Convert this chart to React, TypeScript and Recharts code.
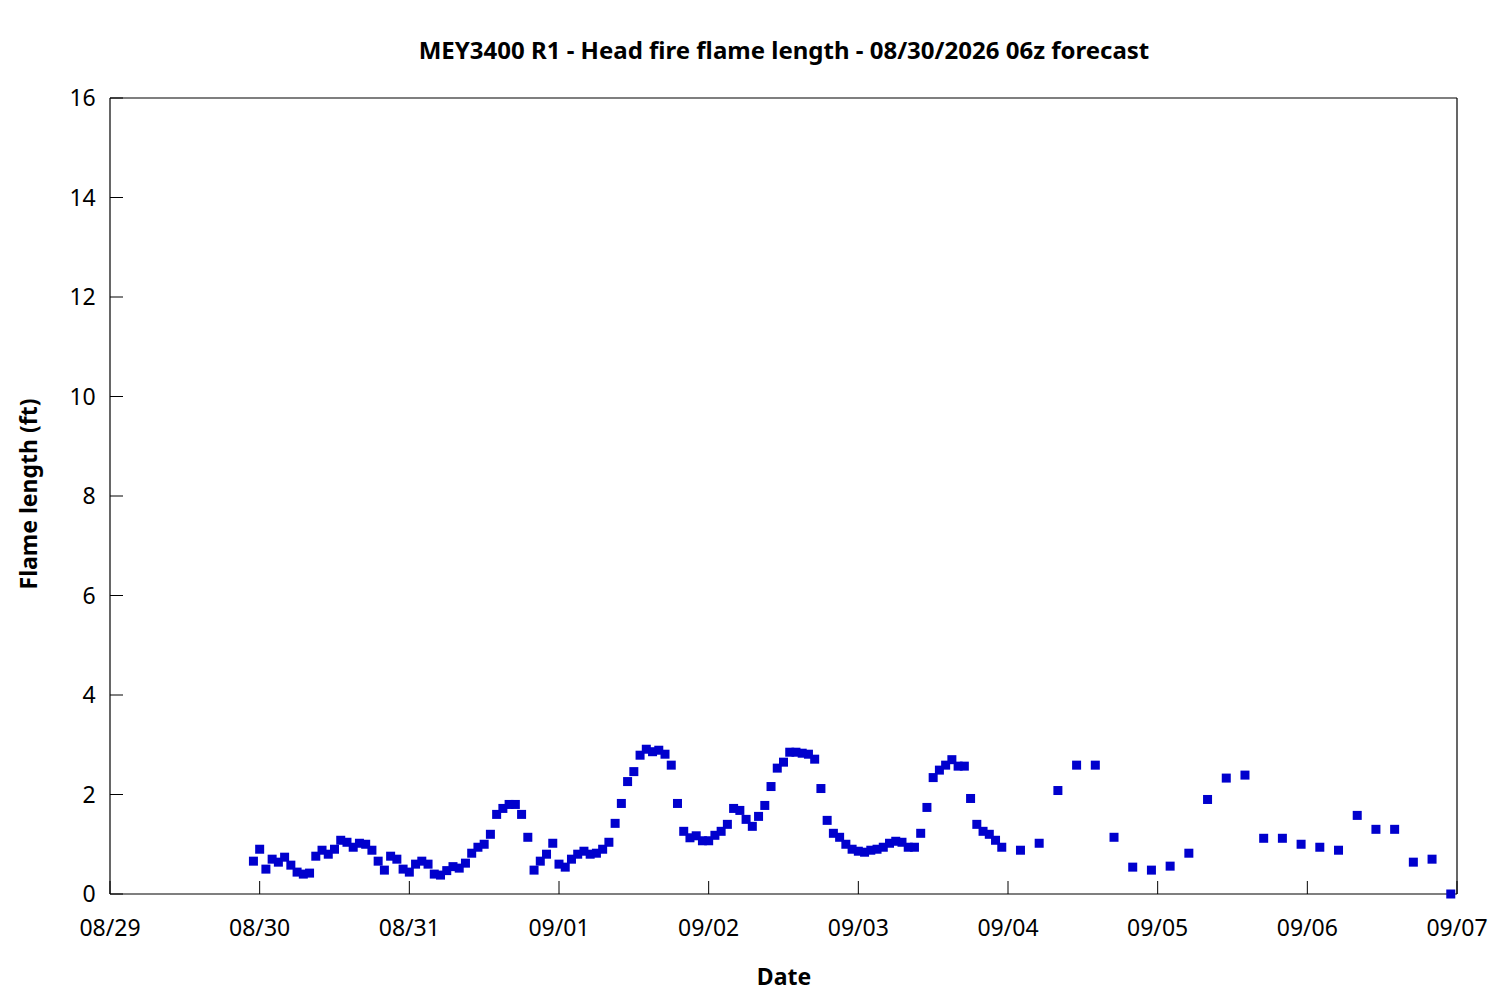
import React from 'react';
import { ScatterChart, Scatter, XAxis, YAxis } from 'recharts';

const FONT = '"Noto Sans", "Open Sans", sans-serif';

// x positions: hours since 08/29 00z
const dateTicks = [0, 24, 48, 72, 96, 120, 144, 168, 192, 216];
const dateLabels = ['08/29', '08/30', '08/31', '09/01', '09/02', '09/03', '09/04', '09/05', '09/06', '09/07'];
const yTicks = [0, 2, 4, 6, 8, 10, 12, 14, 16];

const forecastHours = [
  23, 24, 25, 26, 27, 28, 29, 30, 31, 32, 33, 34, 35, 36, 37, 38, 39, 40, 41, 42, 43, 44, 45, 46, 47,
  48, 49, 50, 51, 52, 53, 54, 55, 56, 57, 58, 59, 60, 61, 62, 63, 64, 65, 66, 67, 68, 69, 70, 71,
  72, 73, 74, 75, 76, 77, 78, 79, 80, 81, 82, 83, 84, 85, 86, 87, 88, 89, 90, 91, 92, 93, 94, 95,
  96, 97, 98, 99, 100, 101, 102, 103, 104, 105, 106, 107, 108, 109, 110, 111, 112, 113, 114, 115, 116, 117, 118, 119,
  120, 121, 122, 123, 124, 125, 126, 127, 128, 129, 130, 131, 132, 133, 134, 135, 136, 137, 138, 139, 140, 141, 142, 143,
  146, 149, 152, 155, 158, 161, 164, 167, 170, 173, 176, 179, 182, 185, 188, 191,
  194, 197, 200, 203, 206, 209, 212, 215,
];

const flameLength = [
  0.66, 0.90, 0.50, 0.70, 0.64, 0.74, 0.58, 0.44, 0.40, 0.42, 0.76, 0.88, 0.80, 0.90, 1.08, 1.04, 0.94, 1.02, 1.00, 0.88, 0.66, 0.48, 0.76, 0.70, 0.50,
  0.44, 0.60, 0.66, 0.60, 0.40, 0.38, 0.47, 0.55, 0.52, 0.62, 0.82, 0.94, 1.00, 1.20, 1.60, 1.72, 1.80, 1.80, 1.60, 1.14, 0.48, 0.66, 0.80, 1.02,
  0.60, 0.54, 0.70, 0.80, 0.86, 0.80, 0.82, 0.90, 1.04, 1.42, 1.82, 2.26, 2.46, 2.79, 2.91, 2.86, 2.89, 2.81, 2.59, 1.82, 1.26, 1.13, 1.17, 1.07,
  1.07, 1.18, 1.26, 1.40, 1.72, 1.68, 1.50, 1.36, 1.56, 1.78, 2.16, 2.53, 2.65, 2.85, 2.85, 2.83, 2.81, 2.71, 2.12, 1.48, 1.22, 1.14, 1.00, 0.90,
  0.86, 0.84, 0.88, 0.90, 0.94, 1.02, 1.06, 1.04, 0.94, 0.94, 1.22, 1.74, 2.34, 2.49, 2.59, 2.70, 2.57, 2.57, 1.92, 1.40, 1.26, 1.20, 1.08, 0.94,
  0.88, 1.02, 2.08, 2.59, 2.59, 1.14, 0.54, 0.48, 0.56, 0.82, 1.90, 2.33, 2.39, 1.12, 1.12, 1.00,
  0.94, 0.88, 1.58, 1.30, 1.30, 0.64, 0.70, 0.00,
];

const data = forecastHours.map((h, i) => ({ h, v: flameLength[i] }));

// chart geometry (svg coords)
const CHART_W = 1484;
const CHART_H = 984;
const MARGIN = { top: 80, right: 25, bottom: 38, left: 42 };
const X_AXIS_H = 60;
const TOP_AXIS_H = 10;
const Y_AXIS_W = 60;
const RIGHT_AXIS_W = 10;
const PLOT_LEFT = MARGIN.left + Y_AXIS_W;
const PLOT_RIGHT = CHART_W - MARGIN.right - RIGHT_AXIS_W;
const PLOT_TOP = MARGIN.top + TOP_AXIS_H;
const PLOT_BOTTOM = CHART_H - MARGIN.bottom - X_AXIS_H;
const TICK_LEN = 13;

const Square = (props: any) => {
  const { cx, cy } = props;
  if (cx == null || cy == null) return <g />;
  return <rect x={cx - 4.5} y={cy - 4.5} width={9} height={9} fill="#0000CD" />;
};

const BottomTick = (props: any) => {
  const { x, payload } = props;
  const label = dateLabels[dateTicks.indexOf(payload.value)] ?? '';
  return (
    <g>
      <line x1={x} x2={x} y1={PLOT_BOTTOM} y2={PLOT_BOTTOM - TICK_LEN} stroke="#000" strokeWidth={1} />
      <text x={x} y={PLOT_BOTTOM + 25.5} dy="0.71em" textAnchor="middle" fill="#000" fontSize={23} fontFamily={FONT}>
        {label}
      </text>
    </g>
  );
};

const TopTick = (props: any) => {
  const { x } = props;
  return <line x1={x} x2={x} y1={PLOT_TOP} y2={PLOT_TOP + TICK_LEN} stroke="#000" strokeWidth={1} />;
};

const LeftTick = (props: any) => {
  const { y, payload } = props;
  return (
    <g>
      <line x1={PLOT_LEFT} x2={PLOT_LEFT + TICK_LEN} y1={y} y2={y} stroke="#000" strokeWidth={1} />
      <text x={PLOT_LEFT - 14.3} y={y} dy="0.355em" textAnchor="end" fill="#000" fontSize={23} fontFamily={FONT}>
        {payload.value}
      </text>
    </g>
  );
};

const RightTick = (props: any) => {
  const { y } = props;
  return <line x1={PLOT_RIGHT} x2={PLOT_RIGHT - TICK_LEN} y1={y} y2={y} stroke="#000" strokeWidth={1} />;
};

export default function App() {
  const axisStyle = { stroke: '#000', strokeWidth: 1.2 };
  return (
    <div style={{ position: 'relative', width: CHART_W, height: CHART_H, background: '#fff' }}>
      <ScatterChart width={CHART_W} height={CHART_H} margin={MARGIN}>
        <XAxis
          xAxisId="b"
          dataKey="h"
          type="number"
          orientation="bottom"
          domain={[0, 216]}
          ticks={dateTicks}
          interval={0}
          height={X_AXIS_H}
          axisLine={axisStyle}
          tickLine={false}
          tick={BottomTick}
        />
        <XAxis
          xAxisId="t"
          dataKey="h"
          type="number"
          orientation="top"
          domain={[0, 216]}
          ticks={dateTicks}
          interval={0}
          height={TOP_AXIS_H}
          axisLine={axisStyle}
          tickLine={false}
          tick={TopTick}
        />
        <YAxis
          yAxisId="l"
          dataKey="v"
          type="number"
          orientation="left"
          domain={[0, 16]}
          ticks={yTicks}
          interval={0}
          width={Y_AXIS_W}
          axisLine={axisStyle}
          tickLine={false}
          tick={LeftTick}
        />
        <YAxis
          yAxisId="r"
          dataKey="v"
          type="number"
          orientation="right"
          domain={[0, 16]}
          ticks={yTicks}
          interval={0}
          width={RIGHT_AXIS_W}
          axisLine={axisStyle}
          tickLine={false}
          tick={RightTick}
        />
        <Scatter
          data={data}
          xAxisId="b"
          yAxisId="l"
          dataKey="v"
          fill="#0000CD"
          shape={Square}
          isAnimationActive={false}
        />
      </ScatterChart>
      <svg
        width={CHART_W}
        height={CHART_H}
        style={{ position: 'absolute', left: 0, top: 0, pointerEvents: 'none' }}
      >
        <text x={776} y={50.5} textAnchor="middle" fontFamily={FONT} fontWeight="bold" fontSize={24} fill="#000">
          MEY3400 R1 - Head fire flame length - 08/30/2026 06z forecast
        </text>
        <text x={776} y={977} textAnchor="middle" fontFamily={FONT} fontWeight="bold" fontSize={23} fill="#000">
          Date
        </text>
        <text
          transform="translate(29, 486) rotate(-90)"
          x={0}
          y={0}
          textAnchor="middle"
          fontFamily={FONT}
          fontWeight="bold"
          fontSize={23}
          fill="#000"
        >
          Flame length (ft)
        </text>
      </svg>
    </div>
  );
}
